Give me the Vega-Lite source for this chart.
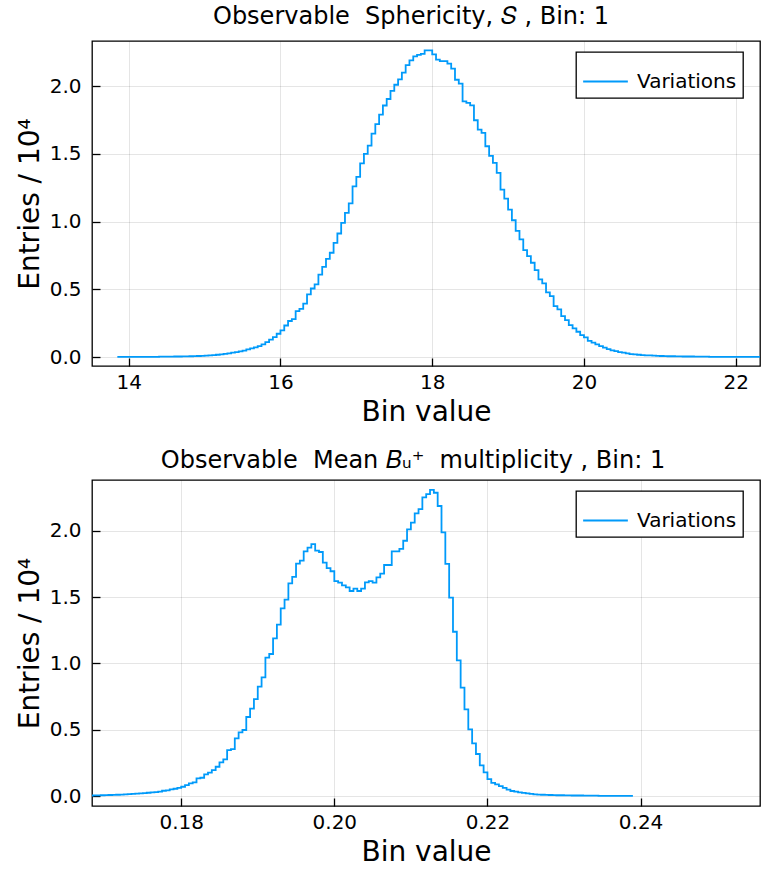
{
  "$schema": "https://vega.github.io/schema/vega-lite/v6.json",
  "padding": {"left": 16, "top": 4, "right": 0, "bottom": 0},
  "spacing": 21,
  "config": {
    "font": "DejaVu Sans",
    "view": {"stroke": "#000", "strokeWidth": 1.3},
    "axis": {
      "domain": false,
      "grid": true,
      "gridColor": "#000",
      "gridOpacity": 0.1,
      "gridWidth": 1,
      "ticks": true,
      "tickColor": "#000",
      "tickWidth": 1.3,
      "tickSize": -8,
      "labelFontSize": 20,
      "labelColor": "#000",
      "labelFont": "DejaVu Sans",
      "titleFont": "DejaVu Sans",
      "titleFontSize": 28,
      "titleFontWeight": "normal",
      "titleColor": "#000"
    },
    "axisX": {"labelPadding": 14, "titlePadding": 6},
    "axisY": {"labelPadding": 19, "titlePadding": 4.5},
    "title": {"font": "DejaVu Sans", "fontSize": 24, "fontWeight": "normal", "color": "#000", "anchor": "middle", "offset": 12},
    "legend": {
      "orient": "none",
      "strokeColor": "#000",
      "strokeWidth": 1.3,
      "fillColor": "#fff",
      "padding": 6,
      "cornerRadius": 0,
      "symbolType": "stroke",
      "symbolSize": 2000,
      "symbolStrokeWidth": 1.8,
      "labelFontSize": 20,
      "labelFont": "DejaVu Sans",
      "labelColor": "#000",
      "labelOffset": 8
    }
  },
  "resolve": {"scale": {"color": "independent"}, "legend": {"color": "independent"}},
  "datasets": {
    "sph": [
      {"x":13.85,"y":0.001},{"x":13.90,"y":0.001},{"x":13.95,"y":0.001},{"x":14.00,"y":0.001},{"x":14.05,"y":0.001},
      {"x":14.10,"y":0.001},{"x":14.15,"y":0.002},{"x":14.20,"y":0.002},{"x":14.25,"y":0.002},{"x":14.30,"y":0.002},
      {"x":14.35,"y":0.002},{"x":14.40,"y":0.003},{"x":14.45,"y":0.003},{"x":14.50,"y":0.003},{"x":14.55,"y":0.003},
      {"x":14.60,"y":0.004},{"x":14.65,"y":0.004},{"x":14.70,"y":0.005},{"x":14.75,"y":0.005},{"x":14.80,"y":0.006},
      {"x":14.85,"y":0.007},{"x":14.90,"y":0.008},{"x":14.95,"y":0.009},{"x":15.00,"y":0.010},{"x":15.05,"y":0.012},
      {"x":15.10,"y":0.014},{"x":15.15,"y":0.017},{"x":15.20,"y":0.020},{"x":15.25,"y":0.023},{"x":15.30,"y":0.027},
      {"x":15.35,"y":0.032},{"x":15.40,"y":0.037},{"x":15.45,"y":0.042},{"x":15.50,"y":0.048},{"x":15.55,"y":0.056},
      {"x":15.60,"y":0.064},{"x":15.65,"y":0.072},{"x":15.70,"y":0.080},{"x":15.75,"y":0.093},{"x":15.80,"y":0.110},
      {"x":15.85,"y":0.128},{"x":15.90,"y":0.147},{"x":15.95,"y":0.172},{"x":16.00,"y":0.197},{"x":16.05,"y":0.233},
      {"x":16.10,"y":0.266},{"x":16.15,"y":0.280},{"x":16.20,"y":0.339},{"x":16.25,"y":0.356},{"x":16.30,"y":0.395},
      {"x":16.35,"y":0.462},{"x":16.40,"y":0.506},{"x":16.45,"y":0.536},{"x":16.50,"y":0.609},{"x":16.55,"y":0.666},
      {"x":16.60,"y":0.725},{"x":16.65,"y":0.770},{"x":16.70,"y":0.843},{"x":16.75,"y":0.912},{"x":16.80,"y":0.991},
      {"x":16.85,"y":1.065},{"x":16.90,"y":1.134},{"x":16.95,"y":1.26},{"x":17.00,"y":1.33},{"x":17.05,"y":1.43},
      {"x":17.10,"y":1.50},{"x":17.15,"y":1.56},{"x":17.20,"y":1.65},{"x":17.25,"y":1.72},{"x":17.30,"y":1.79},
      {"x":17.35,"y":1.857},{"x":17.40,"y":1.905},{"x":17.45,"y":1.965},{"x":17.50,"y":2.01},{"x":17.55,"y":2.05},
      {"x":17.60,"y":2.10},{"x":17.65,"y":2.155},{"x":17.70,"y":2.19},{"x":17.75,"y":2.22},{"x":17.80,"y":2.23},
      {"x":17.85,"y":2.238},{"x":17.90,"y":2.264},{"x":17.95,"y":2.264},{"x":18.00,"y":2.235},{"x":18.05,"y":2.195},
      {"x":18.10,"y":2.185},{"x":18.15,"y":2.185},{"x":18.20,"y":2.166},{"x":18.25,"y":2.129},{"x":18.30,"y":2.047},
      {"x":18.35,"y":2.018},{"x":18.40,"y":1.888},{"x":18.45,"y":1.876},{"x":18.50,"y":1.858},{"x":18.55,"y":1.748},
      {"x":18.60,"y":1.679},{"x":18.65,"y":1.655},{"x":18.70,"y":1.556},{"x":18.75,"y":1.485},{"x":18.80,"y":1.433},
      {"x":18.85,"y":1.360},{"x":18.90,"y":1.236},{"x":18.95,"y":1.170},{"x":19.00,"y":1.089},{"x":19.05,"y":1.010},
      {"x":19.10,"y":0.932},{"x":19.15,"y":0.868},{"x":19.20,"y":0.790},{"x":19.25,"y":0.745},{"x":19.30,"y":0.696},
      {"x":19.35,"y":0.642},{"x":19.40,"y":0.573},{"x":19.45,"y":0.544},{"x":19.50,"y":0.477},{"x":19.55,"y":0.450},
      {"x":19.60,"y":0.376},{"x":19.65,"y":0.352},{"x":19.70,"y":0.302},{"x":19.75,"y":0.273},{"x":19.80,"y":0.236},
      {"x":19.85,"y":0.211},{"x":19.90,"y":0.187},{"x":19.95,"y":0.162},{"x":20.00,"y":0.145},{"x":20.05,"y":0.120},
      {"x":20.10,"y":0.106},{"x":20.15,"y":0.094},{"x":20.20,"y":0.081},{"x":20.25,"y":0.069},{"x":20.30,"y":0.059},
      {"x":20.35,"y":0.049},{"x":20.40,"y":0.044},{"x":20.45,"y":0.037},{"x":20.50,"y":0.032},{"x":20.55,"y":0.027},
      {"x":20.60,"y":0.022},{"x":20.65,"y":0.020},{"x":20.70,"y":0.017},{"x":20.75,"y":0.015},{"x":20.80,"y":0.013},
      {"x":20.85,"y":0.012},{"x":20.90,"y":0.010},{"x":20.95,"y":0.009},{"x":21.00,"y":0.008},{"x":21.05,"y":0.007},
      {"x":21.10,"y":0.006},{"x":21.15,"y":0.006},{"x":21.20,"y":0.005},{"x":21.25,"y":0.005},{"x":21.30,"y":0.004},
      {"x":21.35,"y":0.004},{"x":21.40,"y":0.004},{"x":21.45,"y":0.003},{"x":21.50,"y":0.003},{"x":21.55,"y":0.003},
      {"x":21.60,"y":0.003},{"x":21.65,"y":0.002},{"x":21.70,"y":0.002},{"x":21.75,"y":0.002},{"x":21.80,"y":0.002},
      {"x":21.85,"y":0.002},{"x":21.90,"y":0.002},{"x":21.95,"y":0.001},{"x":22.00,"y":0.001},{"x":22.05,"y":0.001},
      {"x":22.10,"y":0.001},{"x":22.15,"y":0.001},{"x":22.20,"y":0.001},{"x":22.25,"y":0.001},{"x":22.30,"y":0.001},
      {"x":22.35,"y":0.001}
    ],
    "mult": [
      {"x":0.1680,"y":0.004},{"x":0.1685,"y":0.005},{"x":0.1690,"y":0.005},{"x":0.1695,"y":0.006},{"x":0.1700,"y":0.007},
      {"x":0.1705,"y":0.008},{"x":0.1710,"y":0.009},{"x":0.1715,"y":0.010},{"x":0.1720,"y":0.011},{"x":0.1725,"y":0.013},
      {"x":0.1730,"y":0.014},{"x":0.1735,"y":0.016},{"x":0.1740,"y":0.018},{"x":0.1745,"y":0.020},{"x":0.1750,"y":0.022},
      {"x":0.1755,"y":0.025},{"x":0.1760,"y":0.027},{"x":0.1765,"y":0.030},{"x":0.1770,"y":0.034},{"x":0.1775,"y":0.040},
      {"x":0.1780,"y":0.043},{"x":0.1785,"y":0.050},{"x":0.1790,"y":0.055},{"x":0.1795,"y":0.062},{"x":0.1800,"y":0.070},
      {"x":0.1805,"y":0.083},{"x":0.1810,"y":0.095},{"x":0.1815,"y":0.103},{"x":0.1820,"y":0.133},{"x":0.1825,"y":0.138},
      {"x":0.1830,"y":0.163},{"x":0.1835,"y":0.176},{"x":0.1840,"y":0.196},{"x":0.1845,"y":0.221},{"x":0.1850,"y":0.254},
      {"x":0.1855,"y":0.276},{"x":0.1860,"y":0.347},{"x":0.1865,"y":0.354},{"x":0.1870,"y":0.435},{"x":0.1875,"y":0.480},
      {"x":0.1880,"y":0.498},{"x":0.1885,"y":0.596},{"x":0.1890,"y":0.659},{"x":0.1895,"y":0.731},{"x":0.1900,"y":0.825},
      {"x":0.1905,"y":0.895},{"x":0.1910,"y":1.043},{"x":0.1915,"y":1.071},{"x":0.1920,"y":1.189},{"x":0.1925,"y":1.292},
      {"x":0.1930,"y":1.415},{"x":0.1935,"y":1.481},{"x":0.1940,"y":1.604},{"x":0.1945,"y":1.652},{"x":0.1950,"y":1.752},
      {"x":0.1955,"y":1.775},{"x":0.1960,"y":1.845},{"x":0.1965,"y":1.873},{"x":0.1970,"y":1.900},{"x":0.1975,"y":1.850},
      {"x":0.1980,"y":1.840},{"x":0.1985,"y":1.760},{"x":0.1990,"y":1.718},{"x":0.1995,"y":1.695},{"x":0.2000,"y":1.620},
      {"x":0.2005,"y":1.609},{"x":0.2010,"y":1.589},{"x":0.2015,"y":1.574},{"x":0.2020,"y":1.546},{"x":0.2025,"y":1.564},
      {"x":0.2030,"y":1.546},{"x":0.2035,"y":1.564},{"x":0.2040,"y":1.611},{"x":0.2045,"y":1.621},{"x":0.2050,"y":1.609},
      {"x":0.2055,"y":1.649},{"x":0.2060,"y":1.677},{"x":0.2065,"y":1.742},{"x":0.2070,"y":1.742},{"x":0.2075,"y":1.845},
      {"x":0.2080,"y":1.845},{"x":0.2085,"y":1.863},{"x":0.2090,"y":1.925},{"x":0.2095,"y":2.011},{"x":0.2100,"y":2.061},
      {"x":0.2105,"y":2.132},{"x":0.2110,"y":2.164},{"x":0.2115,"y":2.252},{"x":0.2120,"y":2.277},{"x":0.2125,"y":2.308},
      {"x":0.2130,"y":2.287},{"x":0.2135,"y":2.187},{"x":0.2140,"y":1.988},{"x":0.2145,"y":1.750},{"x":0.2150,"y":1.496},
      {"x":0.2155,"y":1.239},{"x":0.2160,"y":1.023},{"x":0.2165,"y":0.817},{"x":0.2170,"y":0.654},{"x":0.2175,"y":0.503},
      {"x":0.2180,"y":0.397},{"x":0.2185,"y":0.317},{"x":0.2190,"y":0.231},{"x":0.2195,"y":0.179},{"x":0.2200,"y":0.128},
      {"x":0.2205,"y":0.100},{"x":0.2210,"y":0.088},{"x":0.2215,"y":0.075},{"x":0.2220,"y":0.062},{"x":0.2225,"y":0.048},
      {"x":0.2230,"y":0.038},{"x":0.2235,"y":0.033},{"x":0.2240,"y":0.028},{"x":0.2245,"y":0.024},{"x":0.2250,"y":0.020},
      {"x":0.2255,"y":0.017},{"x":0.2260,"y":0.013},{"x":0.2265,"y":0.011},{"x":0.2270,"y":0.010},{"x":0.2275,"y":0.009},
      {"x":0.2280,"y":0.008},{"x":0.2285,"y":0.007},{"x":0.2290,"y":0.006},{"x":0.2295,"y":0.006},{"x":0.2300,"y":0.005},
      {"x":0.2305,"y":0.005},{"x":0.2310,"y":0.004},{"x":0.2315,"y":0.004},{"x":0.2320,"y":0.004},{"x":0.2325,"y":0.003},
      {"x":0.2330,"y":0.003},{"x":0.2335,"y":0.003},{"x":0.2340,"y":0.003},{"x":0.2345,"y":0.002},{"x":0.2350,"y":0.002},
      {"x":0.2355,"y":0.002},{"x":0.2360,"y":0.002},{"x":0.2365,"y":0.002},{"x":0.2370,"y":0.002},{"x":0.2375,"y":0.001},
      {"x":0.2380,"y":0.001},{"x":0.2385,"y":0.001},{"x":0.2390,"y":0.001}
    ]
  },
  "vconcat": [
    {
      "width": 668,
      "height": 325,
      "title": {"text": "Observable\u00a0 Sphericity, 𝑆 , Bin: 1", "dx": -15},
      "data": {"name": "sph"},
      "mark": {"type": "line", "interpolate": "step-after", "clip": true, "strokeWidth": 1.8},
      "encoding": {
        "x": {"field": "x", "type": "quantitative",
              "scale": {"domain": [13.516, 22.32], "nice": false, "zero": false},
              "axis": {"title": "Bin value", "values": [14, 16, 18, 20, 22], "format": ".0f"}},
        "y": {"field": "y", "type": "quantitative",
              "scale": {"domain": [-0.066, 2.333], "nice": false, "zero": false},
              "axis": {"title": "Entries / 10⁴", "values": [0, 0.5, 1, 1.5, 2], "format": ".1f"}},
        "color": {"datum": "Variations", "type": "nominal",
                  "scale": {"range": ["#009AFA"]},
                  "legend": {"title": null, "orient": "none", "legendX": 484, "legendY": 11}}
      }
    },
    {
      "width": 668,
      "height": 326,
      "title": {"text": "Observable\u00a0 Mean 𝐵ᵤ⁺\u00a0 multiplicity , Bin: 1", "dx": -13, "offset": 7},
      "data": {"name": "mult"},
      "mark": {"type": "line", "interpolate": "step-after", "clip": true, "strokeWidth": 1.8},
      "encoding": {
        "x": {"field": "x", "type": "quantitative",
              "scale": {"domain": [0.16835, 0.2556], "nice": false, "zero": false},
              "axis": {"title": "Bin value", "values": [0.18, 0.2, 0.22, 0.24], "format": ".2f"}},
        "y": {"field": "y", "type": "quantitative",
              "scale": {"domain": [-0.075, 2.383], "nice": false, "zero": false},
              "axis": {"title": "Entries / 10⁴", "values": [0, 0.5, 1, 1.5, 2], "format": ".1f"}},
        "color": {"datum": "Variations", "type": "nominal",
                  "scale": {"range": ["#009AFA"]},
                  "legend": {"title": null, "orient": "none", "legendX": 484, "legendY": 11}}
      }
    }
  ]
}
